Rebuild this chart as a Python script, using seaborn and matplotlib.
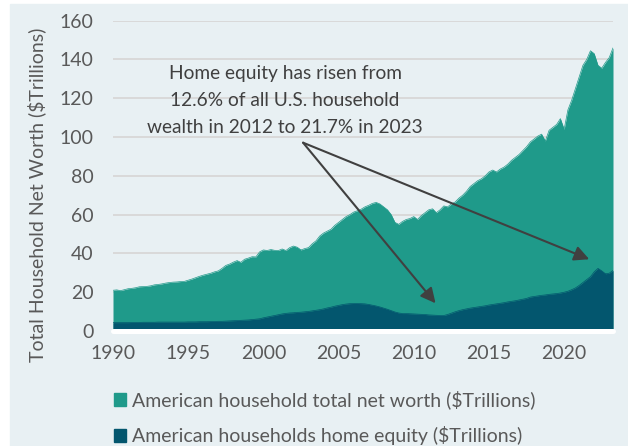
import numpy as np
import seaborn as sns
import matplotlib.pyplot as plt
from matplotlib.patches import Patch, Rectangle

# quarterly values, 1990 Q1 .. 2023 Q2 ($ trillions)
net_worth = [
    21.0, 21.2, 20.8, 21.3,   # 1990
    21.8, 22.0, 22.3, 22.8,   # 1991
    22.9, 23.0, 23.3, 23.8,   # 1992
    24.0, 24.3, 24.7, 25.0,   # 1993
    25.2, 25.3, 25.5, 25.6,   # 1994
    26.2, 26.8, 27.5, 28.2,   # 1995
    28.8, 29.3, 29.8, 30.5,   # 1996
    31.0, 32.3, 33.8, 34.5,   # 1997
    35.5, 36.3, 35.4, 37.0,   # 1998
    37.6, 38.3, 38.2, 40.8,   # 1999
    41.8, 41.5, 42.0, 41.6,   # 2000
    41.5, 42.3, 41.5, 43.0,   # 2001
    43.8, 43.2, 41.8, 42.5,   # 2002
    43.0, 45.0, 46.5, 49.0,   # 2003
    50.5, 51.5, 52.5, 54.5,   # 2004
    56.0, 57.5, 59.0, 60.0,   # 2005
    61.3, 62.0, 62.8, 64.0,   # 2006
    64.8, 65.8, 66.3, 65.5,   # 2007
    64.0, 62.5, 60.0, 56.0,   # 2008
    55.0, 56.5, 57.5, 58.0,   # 2009
    59.0, 57.5, 59.5, 61.0,   # 2010
    62.5, 63.0, 61.0, 62.5,   # 2011
    64.5, 64.0, 65.5, 66.5,   # 2012
    68.5, 70.0, 72.0, 74.5,   # 2013
    76.0, 77.5, 78.5, 80.0,   # 2014
    82.0, 83.0, 82.0, 83.5,   # 2015
    84.5, 86.0, 88.0, 89.5,   # 2016
    91.0, 93.0, 95.0, 97.5,   # 2017
    99.0, 100.5, 101.5, 98.0,  # 2018
    103.5, 105.0, 106.5, 109.5,  # 2019
    104.0, 114.0, 119.0, 125.0,  # 2020
    131.0, 137.0, 140.0, 144.5,  # 2021
    143.0, 137.0, 135.5, 138.5,  # 2022
    141.0, 146.0,               # 2023
]

home_equity = [
    4.3, 4.3, 4.3, 4.3,
    4.3, 4.4, 4.4, 4.4,
    4.5, 4.5, 4.5, 4.5,
    4.6, 4.6, 4.6, 4.6,
    4.6, 4.6, 4.6, 4.6,
    4.7, 4.7, 4.7, 4.8,
    4.8, 4.8, 4.9, 4.9,
    5.0, 5.0, 5.1, 5.2,
    5.3, 5.4, 5.5, 5.6,
    5.7, 5.9, 6.1, 6.3,
    6.8, 7.2, 7.6, 8.0,
    8.4, 8.8, 9.1, 9.3,
    9.4, 9.6, 9.7, 9.9,
    10.1, 10.4, 10.7, 11.0,
    11.4, 11.9, 12.3, 12.8,
    13.2, 13.6, 13.9, 14.1,
    14.2, 14.2, 14.1, 14.0,
    13.7, 13.3, 12.9, 12.4,
    11.8, 11.2, 10.5, 9.8,
    9.3, 9.0, 9.0, 8.9,
    8.8, 8.7, 8.6, 8.5,
    8.3, 8.2, 8.1, 8.0,
    8.0, 8.5, 9.2, 9.9,
    10.5, 11.0, 11.4, 11.8,
    12.1, 12.4, 12.7, 13.0,
    13.4, 13.7, 14.0, 14.3,
    14.6, 15.0, 15.3, 15.6,
    16.0, 16.4, 16.8, 17.5,
    17.8, 18.1, 18.4, 18.6,
    18.9, 19.1, 19.3, 19.6,
    20.0, 20.5, 21.3, 22.2,
    23.5, 25.0, 26.5, 28.0,
    30.5, 32.3, 31.0, 29.5,
    29.8, 31.2,
]

years = 1990 + np.arange(len(net_worth)) / 4

labels = ["American household total net worth ($Trillions)",
          "American households home equity ($Trillions)"]
note = "Home equity has risen from\n12.6% of all U.S. household\nwealth in 2012 to 21.7% in 2023"

teal = "#1F9A8A"
navy = "#03566E"
bg = "#E8F0F3"

sns.set_style("white")
plt.rcParams["font.family"] = ["Lato", "DejaVu Sans"]

fig = plt.figure(figsize=(6.28, 4.46), dpi=100, facecolor="white")
fig.add_artist(Rectangle((10 / 628, 0), 1, (446 - 4) / 446,
                         transform=fig.transFigure, color=bg, zorder=-10))
ax = fig.add_axes([113 / 628, (446 - 331) / 446, 500 / 628, 310.3 / 446])
ax.set_facecolor("none")

sns.lineplot(x=years, y=net_worth, ax=ax, color=teal, linewidth=0.5)
sns.lineplot(x=years, y=home_equity, ax=ax, color=navy, linewidth=0.5)
ax.fill_between(years, net_worth, color=teal, lw=0)
ax.fill_between(years, home_equity, color=navy, lw=0)

ax.set_xlim(1990, years[-1])
ax.set_ylim(0, 160)
ax.set_yticks(range(0, 161, 20))
ax.set_xticks(range(1990, 2021, 5))
ax.yaxis.grid(True, color="#D9D9D9", lw=1.4)
ax.set_axisbelow(True)
for s in ax.spines.values():
    s.set_visible(False)
ax.axhline(0, color="white", lw=3.6, clip_on=False, zorder=5)
ax.tick_params(axis="both", labelsize=14, colors="#595959", length=0)
ax.tick_params(axis="x", pad=10)
ax.tick_params(axis="y", pad=14)
ax.set_ylabel("Total Household Net Worth ($Trillions)", fontsize=14, color="#595959")
ax.yaxis.set_label_coords(-0.133, 0.44)

ax.text(2001.45, 119, note, ha="center", va="center", fontsize=13.8,
        color="#404040", linespacing=1.7)
for tip in [(2011.45, 14.3), (2021.67, 37.0)]:
    ax.annotate("", xy=tip, xytext=(2002.64, 97.1),
                arrowprops=dict(arrowstyle="-|>,head_length=0.9,head_width=0.45",
                                color="#404040", lw=1.5, shrinkA=0, shrinkB=0))

handles = [Patch(color=teal), Patch(color=navy)]
fig.legend(handles, labels, loc="upper left", bbox_to_anchor=(96 / 628, 1 - 373 / 446),
           frameon=False, fontsize=14, labelcolor="#595959",
           handlelength=0.65, handleheight=0.65, handletextpad=0.3, labelspacing=0.85)

fig.savefig("out.png", dpi=100, facecolor=fig.get_facecolor())
